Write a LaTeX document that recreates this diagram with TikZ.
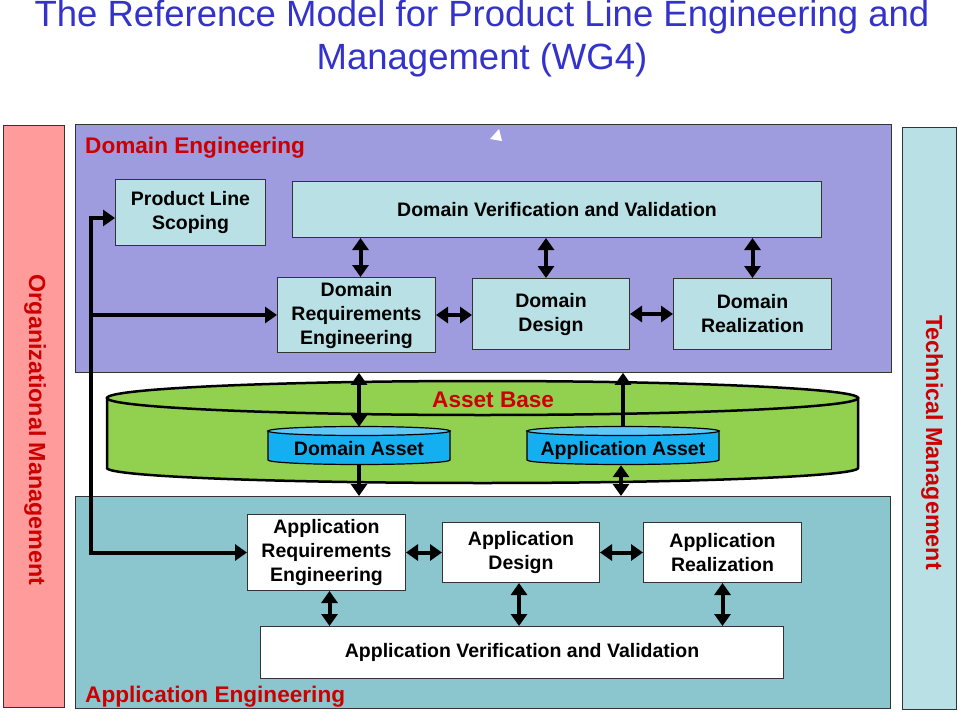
\documentclass[tikz,border=0pt]{standalone}
\usepackage{fontspec}
\setmainfont{Liberation Sans}
\usetikzlibrary{arrows.meta, calc}

\definecolor{domcol}{RGB}{158,155,222}
\definecolor{appcol}{RGB}{139,198,206}
\definecolor{boxcol}{RGB}{185,224,228}
\definecolor{orgcol}{RGB}{255,155,155}
\definecolor{basecol}{RGB}{146,208,80}
\definecolor{assetcol}{RGB}{20,175,240}
\definecolor{assettop}{RGB}{95,200,246}
\definecolor{headred}{RGB}{204,0,0}
\definecolor{titleblue}{RGB}{51,51,204}

\begin{document}
\begin{tikzpicture} [
  x=1pt, y=-1pt,
  region/.style={
    draw=black!80, line width=0.8pt, rectangle, anchor=north west, inner sep=0
  },
  dbox/.style={
    draw=black!80, line width=1pt, fill=boxcol, rectangle, anchor=north west,
    inner sep=0, align=center, font=\bfseries\fontsize{19.5}{24}\selectfont},
  abox/.style={dbox, fill=white},
  heading/.style={text=headred, font=\bfseries\fontsize{22.6}{26}\selectfont, inner sep=0},
  side/.style={heading, rotate=-90, font=\bfseries\fontsize{23.3}{26}\selectfont},
  asset/.style={inner sep=0, text height=20pt, text depth=2pt,
    font=\bfseries\fontsize{19.5}{24}\selectfont},
  link/.style={line width=4pt, {Triangle[length=12pt,width=16pt]}-{Triangle[length=12pt,width=16pt]}},
  feed/.style={line width=4pt, -{Triangle[length=12pt,width=16pt]}}
  ]
  \useasboundingbox (0,0) rectangle (959,712);
  \fill[white] (0,0) rectangle (959,712);

  \node(title)[text=titleblue, font=\fontsize{36.5}{43}\selectfont, align=center, inner sep=0]
    at (482,39) {The Reference Model for Product Line Engineering and\\Management (WG4)};

  \node(org)[region, fill=orgcol, minimum width=61, minimum height=582] at (3,125) {};
  \node(tech)[region, fill=boxcol, minimum width=54, minimum height=582] at (902,127) {};
  \node(de)[region, fill=domcol, minimum width=816, minimum height=248] at (75,124) {};
  \node(ae)[region, fill=appcol, minimum width=815, minimum height=212] at (75,496) {};
  \node[side] at (35,430) {Organizational Management};
  \node[side] at (932,442.5) {Technical Management};
  \node[heading, anchor=base west] at (85,153) {Domain Engineering};
  \node[heading, anchor=base west] at (85,702) {Application Engineering};
  \fill[white] (499,129) -- (490,139) -- (502,141) -- cycle;

  \filldraw[fill=basecol, line width=2.5pt] (107,398) -- (107,468)
    arc[start angle=180, end angle=360, x radius=375.5pt, y radius=15pt] -- (858,398) -- cycle;
  \filldraw[fill=basecol, line width=2.5pt] (482.5,398) ellipse[x radius=375.5pt, y radius=17pt];
  \node(ab)[heading, anchor=base west] at (432,407) {Asset Base};

  \filldraw[fill=assetcol, line width=1.2pt] (268,431) -- (268,460)
    arc[start angle=180, end angle=360, x radius=91pt, y radius=4.5pt] -- (450,431) -- cycle;
  \filldraw[fill=assettop, line width=1.2pt] (359,431) ellipse[x radius=91pt, y radius=4.5pt];
  \filldraw[fill=assetcol, line width=1.2pt] (527,431) -- (527,460)
    arc[start angle=180, end angle=360, x radius=96pt, y radius=4.5pt] -- (719,431) -- cycle;
  \filldraw[fill=assettop, line width=1.2pt] (623,431) ellipse[x radius=96pt, y radius=4.5pt];
  \node(dasset)[asset, minimum width=182, minimum height=38] at (359,446) {Domain Asset};
  \node(aasset)[asset, minimum width=192, minimum height=38] at (623,446) {Application Asset};

  \node(pls)[dbox, minimum width=150, minimum height=66] at (115,179) {Product Line\\Scoping};
  \node(dvv)[dbox, minimum width=529, minimum height=56] at (292,181) {Domain Verification and Validation};
  \node(dre)[dbox, minimum width=158, minimum height=75] at (277,277) {Domain\\Requirements\\Engineering};
  \node(dd)[dbox, minimum width=157, minimum height=71] at (472,278) {Domain\\Design};
  \node(dr)[dbox, minimum width=158, minimum height=71] at (673,278) {Domain\\Realization};

  \node(are)[abox, minimum width=158, minimum height=76] at (247,514) {Application\\Requirements\\Engineering};
  \node(ad)[abox, minimum width=157, minimum height=60] at (442,522) {Application\\Design};
  \node(ar)[abox, minimum width=158, minimum height=60] at (643,522) {Application\\Realization};
  \node(avv)[abox, minimum width=523, minimum height=52] at (260,626) {Application Verification and Validation};

  \coordinate (bus) at (91,218);
  \begin{scope}
    \draw[link] (are.west) -- (bus |- are.west) -- (bus) -- (pls.west |- bus);
    \draw[feed] (bus |- dre.west) -- (dre.west);
    \draw[link] ([xshift=4pt]dre.north |- dvv.south) -- ([xshift=4pt]dre.north);
    \draw[link] ([xshift=-5pt]dd.north |- dvv.south) -- ([xshift=-5pt]dd.north);
    \draw[link] (dr.north |- dvv.south) -- (dr.north);
    \draw[link] (dre.east) -- (dre.east -| dd.west);
    \draw[link] (dd.east) -- (dd.east -| dr.west);
    \draw[link] (dasset.north |- de.south) -- (dasset.north);
    \draw[feed] (dasset.south) -- (dasset.south |- ae.north);
    \draw[feed] (aasset.north) -- (aasset.north |- de.south);
    \draw[link] ([xshift=-2pt]aasset.south) -- ([xshift=-2pt]aasset.south |- ae.north);
    \draw[link] (are.east) -- (are.east -| ad.west);
    \draw[link] (ad.east) -- (ad.east -| ar.west);
    \draw[link] ([xshift=3pt]are.south) -- ([xshift=3pt]are.south |- avv.north);
    \draw[link] ([xshift=-2pt]ad.south) -- ([xshift=-2pt]ad.south |- avv.north);
    \draw[link] (ar.south) -- (ar.south |- avv.north);
  \end{scope}
\end{tikzpicture}
\end{document}
